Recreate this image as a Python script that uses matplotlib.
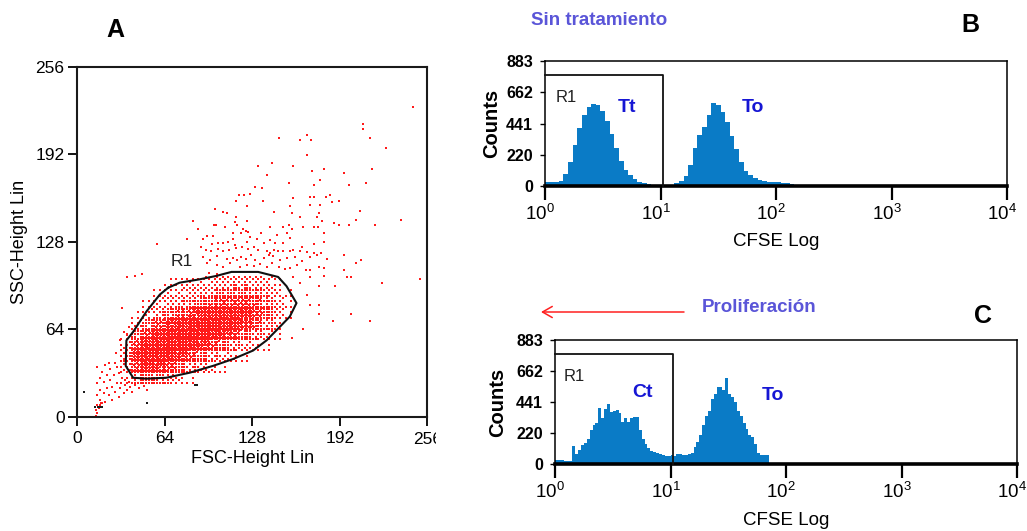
import numpy as np
import matplotlib
matplotlib.use("Agg")
import matplotlib.pyplot as plt
from matplotlib.transforms import Bbox, TransformedBbox, ScaledTranslation

# ------------------------------------------------------------------ data
# Panel A : FSC / SSC dot plot (channel units 0-256)
ticks_a = [0, 64, 128, 192, 256]
gate_x = [66.6, 74.9, 89.7, 101.9, 112.9, 132.4, 147.0, 153.1, 160.4, 155.5, 148.2,
          138.5, 128.7, 114.1, 99.5, 82.4, 65.3, 50.7, 41.0, 35.6, 36.1, 41.0, 50.7, 60.5, 66.6]
gate_y = [94.3, 98.0, 100.5, 103.0, 105.9, 105.9, 102.2, 95.5, 83.1, 73.2, 65.7,
          55.8, 48.4, 42.2, 37.2, 32.2, 28.5, 27.8, 28.5, 37.2, 55.8, 62.0, 76.9, 89.3, 94.3]

# dense core: events per 8x8-channel cell (row = SSC cell index, start = first FSC cell index)
core_rows = [3, 4, 5, 6, 7, 8, 9, 10, 11, 12]
core_starts = [4, 4, 4, 4, 4, 5, 5, 6, 7, 8]
core_counts = [
    [3, 12, 16, 14, 9, 5, 3],
    [8, 26, 32, 30, 24, 16, 11, 8, 5, 3],
    [10, 32, 40, 42, 38, 30, 22, 15, 10, 7, 5, 3],
    [7, 26, 38, 44, 46, 44, 38, 30, 22, 15, 10, 7, 5, 3],
    [3, 14, 26, 36, 42, 46, 46, 44, 38, 30, 22, 15, 10, 6, 3],
    [7, 14, 22, 30, 38, 42, 46, 46, 44, 38, 28, 18, 11, 5],
    [3, 6, 10, 14, 20, 26, 32, 36, 38, 38, 32, 24, 16, 8, 3],
    [4, 6, 8, 10, 12, 15, 19, 22, 24, 22, 18, 12, 7, 3],
    [4, 5, 6, 8, 9, 11, 13, 14, 14, 12, 9, 5, 3],
    [3, 4, 5, 6, 7, 8, 9, 9, 8, 6, 4],
]

# isolated events above the gate
upper_x = [130.2, 135.1, 154.6, 173.4, 177.8, 118.7, 122.4, 126.5, 116.3, 135.8, 157.8, 170.0,
           172.9, 185.1, 182.1, 186.3, 191.2, 124.6, 155.8, 170.4, 177.3, 100.9, 107.0, 109.5,
           144.3, 157.0, 176.5, 116.3, 124.1, 84.6, 115.6, 163.1, 175.3, 179.0, 100.2, 101.7,
           88.2, 108.2, 116.8, 121.2, 123.6, 141.2, 150.9, 154.6, 157.0, 165.1, 172.9, 175.8,
           187.5, 191.2, 113.9, 119.7, 124.8, 134.3, 146.1, 153.4, 180.2, 58.7, 80.7, 95.3,
           99.2, 92.4, 98.5, 103.4, 107.0, 110.7, 114.3, 115.6, 120.4, 124.1, 126.5, 131.4,
           136.3, 140.7, 144.8, 150.9, 155.8, 164.3, 172.9, 180.2, 90.4, 94.3, 98.0, 103.4,
           106.5, 111.4, 116.3, 125.3, 129.0, 132.6, 138.7, 140.7, 144.1, 146.8, 150.9, 155.8,
           157.8, 163.1, 168.0, 172.9, 178.2, 159.5, 92.4, 97.3, 102.1, 109.5, 113.9, 116.8,
           119.7, 123.6, 127.0, 130.4, 136.3, 140.0, 143.1, 148.5, 153.4, 164.3, 170.4, 175.3,
           182.6, 95.3, 102.6, 107.0, 111.9, 119.2, 124.6, 129.5, 133.4, 138.7, 142.4, 147.3,
           152.1, 155.8, 160.7, 167.5, 170.4, 176.5, 180.2, 36.3, 42.4, 47.3, 96.8, 102.1,
           158.2, 170.0, 180.2]
upper_y = [168.3, 167.1, 170.8, 169.5, 173.2, 162.2, 162.2, 163.0, 158.1, 158.1, 159.8, 160.5,
           160.5, 162.2, 160.5, 157.3, 158.1, 154.2, 154.2, 154.9, 154.9, 151.7, 150.0, 148.8,
           150.0, 148.8, 148.8, 146.4, 143.4, 143.4, 142.7, 146.4, 146.4, 143.4, 140.3, 140.3,
           137.1, 139.1, 140.3, 137.1, 136.1, 138.6, 138.6, 140.3, 137.1, 139.1, 139.1, 139.1,
           141.5, 140.3, 134.2, 134.2, 135.4, 134.2, 133.0, 134.2, 134.7, 126.4, 129.8, 132.2,
           132.2, 129.8, 126.4, 126.9, 127.3, 128.1, 129.8, 125.6, 124.4, 128.1, 131.2, 129.8,
           126.9, 129.3, 127.3, 126.9, 130.5, 124.4, 126.4, 128.1, 124.4, 122.0, 121.5, 122.5,
           121.5, 122.0, 123.2, 122.5, 124.4, 122.0, 121.5, 120.0, 122.0, 121.5, 121.0, 121.5,
           122.0, 121.5, 120.8, 119.5, 120.0, 117.1, 116.6, 114.7, 117.6, 115.2, 115.9, 114.7,
           116.6, 115.2, 118.1, 114.7, 115.9, 118.3, 117.6, 114.7, 115.9, 114.2, 116.6, 118.3,
           115.2, 112.2, 111.0, 109.3, 112.2, 109.8, 111.0, 110.3, 111.7, 109.8, 112.7, 109.3,
           107.8, 108.6, 111.0, 107.3, 107.3, 109.3, 108.6, 102.0, 102.9, 104.2, 104.9, 104.4,
           102.5, 102.0, 102.9]

# isolated events far from the core (upper right and right of the gate)
far_x = [245.8, 209.0, 209.0, 214.1, 225.6, 147.8, 163.1, 168.3, 170.7, 168.3, 132.4, 142.6,
         158.0, 138.7, 171.9, 180.7, 194.8, 215.3, 198.7, 211.4, 206.5, 199.0, 203.9, 218.0,
         237.0, 194.8, 207.8, 203.9, 194.8, 197.5, 200.2, 223.1, 250.9, 200.2, 214.1, 188.5,
         177.0, 168.3, 177.0, 170.5, 177.0, 162.9, 187.3, 165.4, 156.8]
far_y = [226.8, 213.9, 210.2, 203.9, 196.3, 203.9, 202.4, 206.3, 202.4, 191.2, 183.4, 185.8,
         183.4, 177.0, 179.5, 181.0, 178.2, 181.0, 169.5, 170.7, 150.2, 140.0, 143.9, 140.0,
         143.9, 118.5, 114.6, 112.1, 107.0, 101.9, 101.9, 98.0, 100.6, 75.1, 70.0, 95.5,
         95.5, 89.2, 81.7, 81.7, 75.1, 98.0, 70.0, 64.0, 57.6]

# isolated events below / left of the gate (debris)
low_x = [37.8, 34.1, 31.7, 36.6, 28.8, 28.0, 29.3, 14.6, 18.3, 20.7, 23.2, 24.4, 22.0, 17.1,
         14.6, 19.5, 24.4, 26.8, 30.5, 32.9, 29.3, 25.6, 22.0, 17.1, 14.6, 19.5, 23.2, 28.0,
         31.7, 35.4, 36.6, 34.1, 30.5, 25.6, 20.7, 17.1, 39.0, 42.7, 40.2, 45.1, 48.8, 51.2,
         37.8, 35.4, 14.6, 15.9, 18.3, 32.9, 14.1, 14.6, 13.7, 16.1, 16.6, 17.8]
low_y = [65.8, 62.2, 56.1, 59.7, 46.3, 39.5, 36.1, 36.6, 32.9, 37.8, 39.5, 34.6, 30.5, 28.0,
         24.4, 25.6, 26.8, 30.5, 31.7, 28.0, 24.4, 21.9, 20.7, 19.5, 15.8, 17.1, 15.8, 18.3,
         20.7, 23.1, 19.5, 17.1, 14.6, 12.2, 10.9, 12.2, 21.9, 23.1, 18.3, 20.7, 22.4, 19.5,
         25.6, 26.8, 8.5, 6.8, 9.7, 79.2, 5.0, 2.5, 0.5, 6.2, 8.7, 9.9]
black_x = [5.4, 51.2, 86.5, 88.0, 13.5, 15.0, 16.5, 18.0]
black_y = [18.3, 10.2, 23.0, 23.0, 6.8, 6.8, 6.8, 6.8]

# Panels B / C : CFSE histograms (counts per log-decade bin)
count_ticks = [0, 220, 441, 662, 883]
decade_ticks = [1, 10, 100, 1000, 10000]
decade_labels = [r"$\mathregular{10^{0}}$", r"$\mathregular{10^{1}}$", r"$\mathregular{10^{2}}$",
                 r"$\mathregular{10^{3}}$", r"$\mathregular{10^{4}}$"]
gate_r1_log_right = 1.02
gate_r1_top = 784

b_log_start, b_log_step = 0.0, 0.04
b_counts = [30, 30, 30, 32, 85, 170, 290, 410, 500, 555, 580, 575, 530, 460, 365, 265, 180,
            115, 75, 48, 30, 20, 14, 6, 3, 0, 0, 3, 18, 35, 70, 150, 265, 360, 420, 500, 585,
            575, 525, 450, 355, 260, 170, 105, 75, 55, 42, 35, 30, 28, 26, 24, 20, 16, 10]

c_log_start, c_log_step = 0.0, 0.025
c_counts = [28, 28, 25, 22, 22, 20, 130, 70, 100, 135, 150, 175, 240, 280, 290, 400, 330, 395,
            425, 370, 375, 385, 360, 300, 325, 300, 325, 335, 338, 240, 175, 145, 112, 95, 88,
            76, 70, 64, 60, 57, 64, 60, 68, 71, 66, 64, 70, 76, 123, 160, 210, 280, 340, 380,
            460, 500, 545, 550, 530, 610, 500, 479, 440, 375, 340, 290, 250, 210, 190, 140, 80,
            64, 64, 62]

# ------------------------------------------------------------------ style
SANS = ["Liberation Sans", "DejaVu Sans"]
plt.rcParams["font.family"] = SANS
plt.rcParams["mathtext.fontset"] = "custom"
plt.rcParams["mathtext.rm"] = "Liberation Sans"
plt.rcParams["mathtext.it"] = "Liberation Sans"
plt.rcParams["mathtext.bf"] = "Liberation Sans:bold"
DOT_RED = "#ff1a1a"
HIST_BLUE = "#0a7bc6"
LABEL_BLUE = "#1616d4"
TITLE_BLUE = "#5a55d8"

W, H = 1027, 531
fig = plt.figure(figsize=(W / 100, H / 100), dpi=100)


def fx(px):
    return px / W


def fy(py):
    return 1 - py / H


# ------------------------------------------------------------------ panel A
A_L, A_R, A_T, A_B = 77.0, 427.3, 66.7, 416.7
axA = fig.add_axes([fx(A_L), fy(A_B), fx(A_R) - fx(A_L), fy(A_T) - fy(A_B)])
axA.set_xlim(0, 256)
axA.set_ylim(0, 256)

# ordered-dither matrix used to draw each core cell's events inside its 8x8 channels
bayer = np.array([[0]])
while bayer.shape[0] < 8:
    bayer = np.block([[4 * bayer, 4 * bayer + 2], [4 * bayer + 3, 4 * bayer + 1]])
core_px, core_py = [], []
for row, start, counts in zip(core_rows, core_starts, core_counts):
    for k, n in enumerate(counts):
        vv, uu = np.nonzero(bayer < n)
        core_px.extend((start + k) * 8 + uu + 0.5)
        core_py.extend(row * 8 + vv + 0.5)

axA.scatter(core_px, core_py, s=3.5, marker="s", c=DOT_RED, linewidths=0, zorder=2)
for xs, ys in ((upper_x, upper_y), (far_x, far_y), (low_x, low_y)):
    axA.scatter(xs, ys, s=3.4, marker="s", c=DOT_RED, linewidths=0, zorder=2)
axA.scatter(black_x, black_y, s=3.4, marker="s", c="#1a1a1a", linewidths=0, zorder=3)
axA.plot(gate_x, gate_y, color="#111111", lw=1.5, zorder=4)
axA.text(76.5, 113.4, "R1", fontsize=12.5, ha="center", va="center", color="#222222")

axA.set_xticks(ticks_a)
axA.set_xticklabels([str(t) for t in ticks_a[:-1]] + [""])
axA.set_yticks(ticks_a)
axA.set_yticklabels([str(t) for t in ticks_a])
axA.tick_params(direction="out", length=6.5, width=1.3, labelsize=12.5, colors="black")
axA.tick_params(axis="x", pad=4)
axA.tick_params(axis="y", pad=2.5)
for sp in axA.spines.values():
    sp.set_linewidth(1.5)
    sp.set_color("#1a1a1a")
axA.set_xlabel("FSC-Height Lin", fontsize=13)
axA.set_ylabel("SSC-Height Lin", fontsize=13)
axA.xaxis.set_label_coords(0.5, (A_B - 450) / (A_B - A_T))
axA.yaxis.set_label_coords((28 - A_L) / (A_R - A_L), 0.5)
last = fig.text(fx(A_R), fy(440), str(ticks_a[-1]), fontsize=12.5, ha="center", va="center")
last.set_clip_box(TransformedBbox(Bbox([[0, 0], [fx(436), 1]]), fig.transFigure))
last.set_clip_on(True)
fig.text(fx(115), fy(30), "A", fontsize=18, fontweight="bold", ha="center", va="center")


# ------------------------------------------------------------------ panels B / C
def hist_panel(left, right, top, bottom, log_start, log_step, counts,
               tag1, tag1_pos, tag2_pos, r1_pos, counts_right, cfse_top):
    ax = fig.add_axes([fx(left), fy(bottom), fx(right) - fx(left), fy(top) - fy(bottom)])
    edges = 10 ** (log_start + log_step * np.arange(len(counts) + 1))
    ax.stairs(counts, edges, fill=True, color=HIST_BLUE, lw=0, zorder=2)
    ax.set_xscale("log")
    ax.set_xlim(decade_ticks[0], decade_ticks[-1])
    ax.set_ylim(0, count_ticks[-1])
    ax.set_xticks(decade_ticks)
    ax.set_xticklabels(decade_labels, fontsize=13.5)
    ax.xaxis.set_minor_locator(matplotlib.ticker.NullLocator())
    ax.set_yticks(count_ticks)
    ax.set_yticklabels([str(t) for t in count_ticks], fontsize=11.5, fontweight="bold")
    ax.tick_params(axis="x", direction="out", length=10, width=1.6, pad=3)
    ax.tick_params(axis="y", direction="out", length=3.5, width=1.0, pad=5)
    shift = ScaledTranslation(-5 / 100, 0, fig.dpi_scale_trans)
    for lbl in ax.get_xticklabels():
        lbl.set_transform(lbl.get_transform() + shift)
    for side in ("top", "right", "left"):
        ax.spines[side].set_linewidth(1.1)
    ax.spines["bottom"].set_linewidth(2.6)
    r1x = 10 ** gate_r1_log_right
    ax.plot([1, r1x, r1x], [gate_r1_top, gate_r1_top, 0], color="#111111", lw=1.3,
            zorder=3, clip_on=False)
    ax.text(10 ** r1_pos[0], r1_pos[1], "R1", fontsize=12, ha="center", va="center",
            color="#222222")
    ax.text(10 ** tag1_pos[0], tag1_pos[1], tag1, fontsize=14, fontweight="bold",
            ha="center", va="center", color=LABEL_BLUE)
    ax.text(10 ** tag2_pos[0], tag2_pos[1], "To", fontsize=14, fontweight="bold",
            ha="center", va="center", color=LABEL_BLUE)
    ax.set_ylabel("Counts", fontsize=14.5, fontweight="bold")
    ax.yaxis.set_label_coords((counts_right - left) / (right - left), 0.5)
    ax.set_xlabel("CFSE Log", fontsize=13.5)
    ax.xaxis.set_label_coords(0.5, (bottom - cfse_top) / (bottom - top))
    return ax


axB = hist_panel(545, 1007, 61, 186, b_log_start, b_log_step, b_counts,
                 "Tt", (0.71, 551), (1.80, 551), (0.18, 622), 501, 233)
axC = hist_panel(555, 1017, 340, 464, c_log_start, c_log_step, c_counts,
                 "Ct", (0.76, 506), (1.89, 491), (0.17, 620), 507, 512)

fig.text(fx(531), fy(20.5), "Sin tratamiento", fontsize=13.5, fontweight="bold",
         color=TITLE_BLUE, ha="left", va="center")
fig.text(fx(970), fy(25), "B", fontsize=18, fontweight="bold", ha="center", va="center")
fig.text(fx(702), fy(308), "Proliferación", fontsize=13.5, fontweight="bold",
         color=TITLE_BLUE, ha="left", va="center")
fig.text(fx(983), fy(316), "C", fontsize=18, fontweight="bold", ha="center", va="center")
fig.add_artist(matplotlib.patches.FancyArrowPatch(
    (fx(684), fy(312)), (fx(541), fy(312)), transform=fig.transFigure,
    arrowstyle="->,head_length=7,head_width=4", color="#ff2020", lw=1.1,
    shrinkA=0, shrinkB=0))

fig.savefig("out.png", dpi=100)
